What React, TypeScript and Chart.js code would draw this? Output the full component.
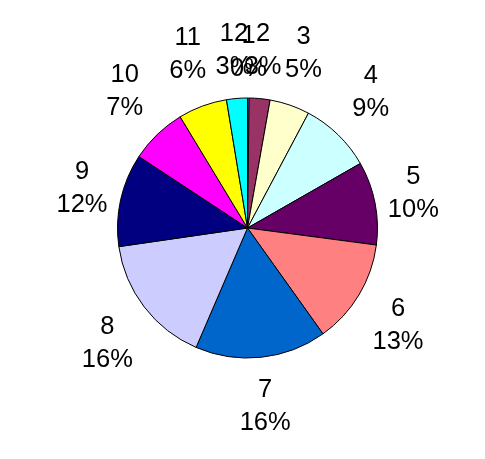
import React, { useEffect, useRef } from "react";
import { Chart, registerables } from "chart.js";

Chart.register(...registerables);

const categories = ["1", "2", "3", "4", "5", "6", "7", "8", "9", "10", "11", "12"];
const values = [0.2, 2.6, 5.0, 9.0, 10.4, 13.1, 16.4, 16.3, 11.6, 7.1, 6.1, 2.6];
const colors = [
  "#9999FF", "#993366", "#FFFFCC", "#CCFFFF", "#660066", "#FF8080",
  "#0066CC", "#CCCCFF", "#000080", "#FF00FF", "#FFFF00", "#00FFFF",
];

const labelPlugin = {
  id: "outsideLabels",
  afterDatasetsDraw(chart: any) {
    const ctx = chart.ctx;
    const meta = chart.getDatasetMeta(0);
    const data = chart.data.datasets[0].data as number[];
    const total = data.reduce((a, b) => a + b, 0);
    ctx.save();
    ctx.font = '25.5px "Liberation Sans", Arial, sans-serif';
    ctx.fillStyle = "#000";
    ctx.textAlign = "center";
    ctx.textBaseline = "middle";
    meta.data.forEach((arc: any, i: number) => {
      const { x, y, startAngle, endAngle } = arc.getProps(["x", "y", "startAngle", "endAngle"], true);
      const mid = (startAngle + endAngle) / 2;
      const s2 = Math.abs(Math.sin(2 * mid));
      const f = 1 + 0.08 * s2;
      const lx = x + Math.cos(mid) * 164 * f;
      const ly = y + Math.sin(mid) * 176 * f;
      const pct = Math.round((data[i] / total) * 100) + "%";
      ctx.fillText(chart.data.labels[i], lx, ly - 16);
      ctx.fillText(pct, lx, ly + 17);
    });
    ctx.restore();
  },
};

export default function App() {
  const ref = useRef<HTMLCanvasElement>(null);
  useEffect(() => {
    if (!ref.current) return;
    const chart = new Chart(ref.current, {
      type: "pie",
      data: {
        labels: categories,
        datasets: [
          {
            data: values,
            backgroundColor: colors,
            borderColor: "#000",
            borderWidth: 1,
          },
        ],
      },
      options: {
        responsive: false,
        animation: false,
        radius: 130,
        layout: { padding: { left: 20, right: 10, top: 10, bottom: 13 } },
        plugins: { legend: { display: false }, tooltip: { enabled: false } },
      } as any,
      plugins: [labelPlugin],
    });
    return () => chart.destroy();
  }, []);
  return (
    <div style={{ position: "absolute", left: 0, top: 0, width: 485, height: 459, background: "#fff" }}>
      <canvas ref={ref} width={485} height={459} />
    </div>
  );
}
